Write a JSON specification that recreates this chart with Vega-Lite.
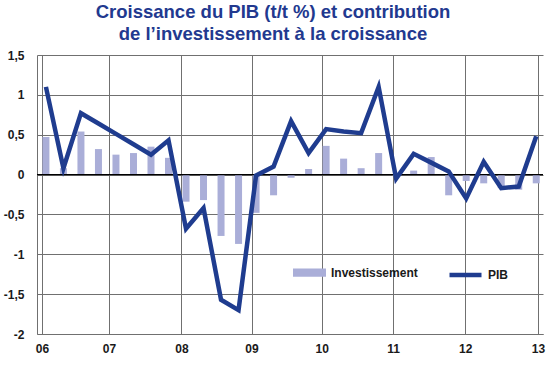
{
  "$schema": "https://vega.github.io/schema/vega-lite/v6.json",
  "width": 506,
  "height": 279,
  "autosize": {"type": "none"},
  "padding": {"left": 37, "top": 55, "right": 9, "bottom": 36},
  "background": "white",
  "config": {
    "view": {"stroke": null},
    "font": "Liberation Sans",
    "axisY": {
      "title": null,
      "grid": true,
      "gridColor": "#707070",
      "gridWidth": 1,
      "gridOpacity": 1,
      "domainColor": "#707070",
      "domainWidth": 1,
      "ticks": false,
      "labelPadding": 13,
      "labelFont": "Liberation Sans",
      "labelFontSize": 12,
      "labelFontWeight": "bold",
      "labelColor": "#1a1a1a",
      "labelFlush": false,
      "labelOverlap": false
    }
  },
  "title": {
    "text": ["Croissance du PIB (t/t %) et contribution", "de l’investissement à la croissance"],
    "font": "Liberation Sans",
    "fontSize": 18.5,
    "fontWeight": "bold",
    "color": "#22398f",
    "anchor": "middle",
    "dx": -17,
    "offset": 6,
    "lineHeight": 21.5
  },
  "data": {
    "values": [
      {"q": 0, "trimestre": "2006T1", "inv": 0.47, "pib": 1.1},
      {"q": 1, "trimestre": "2006T2", "inv": 0.08, "pib": 0.08},
      {"q": 2, "trimestre": "2006T3", "inv": 0.54, "pib": 0.77},
      {"q": 3, "trimestre": "2006T4", "inv": 0.32, "pib": 0.64},
      {"q": 4, "trimestre": "2007T1", "inv": 0.25, "pib": 0.51},
      {"q": 5, "trimestre": "2007T2", "inv": 0.27, "pib": 0.38},
      {"q": 6, "trimestre": "2007T3", "inv": 0.35, "pib": 0.25},
      {"q": 7, "trimestre": "2007T4", "inv": 0.21, "pib": 0.43},
      {"q": 8, "trimestre": "2008T1", "inv": -0.34, "pib": -0.68},
      {"q": 9, "trimestre": "2008T2", "inv": -0.32, "pib": -0.42},
      {"q": 10, "trimestre": "2008T3", "inv": -0.77, "pib": -1.57},
      {"q": 11, "trimestre": "2008T4", "inv": -0.87, "pib": -1.7},
      {"q": 12, "trimestre": "2009T1", "inv": -0.48, "pib": -0.01},
      {"q": 13, "trimestre": "2009T2", "inv": -0.26, "pib": 0.1},
      {"q": 14, "trimestre": "2009T3", "inv": -0.04, "pib": 0.67},
      {"q": 15, "trimestre": "2009T4", "inv": 0.07, "pib": 0.27},
      {"q": 16, "trimestre": "2010T1", "inv": 0.36, "pib": 0.57},
      {"q": 17, "trimestre": "2010T2", "inv": 0.2, "pib": 0.54},
      {"q": 18, "trimestre": "2010T3", "inv": 0.08, "pib": 0.52},
      {"q": 19, "trimestre": "2010T4", "inv": 0.27, "pib": 1.1},
      {"q": 20, "trimestre": "2011T1", "inv": -0.02, "pib": -0.05},
      {"q": 21, "trimestre": "2011T2", "inv": 0.05, "pib": 0.26},
      {"q": 22, "trimestre": "2011T3", "inv": 0.22, "pib": 0.15},
      {"q": 23, "trimestre": "2011T4", "inv": -0.26, "pib": 0.04},
      {"q": 24, "trimestre": "2012T1", "inv": -0.08, "pib": -0.3},
      {"q": 25, "trimestre": "2012T2", "inv": -0.11, "pib": 0.16},
      {"q": 26, "trimestre": "2012T3", "inv": -0.17, "pib": -0.17},
      {"q": 27, "trimestre": "2012T4", "inv": -0.19, "pib": -0.15},
      {"q": 28, "trimestre": "2013T1", "inv": -0.11, "pib": 0.48}
    ]
  },
  "layer": [
    {
      "mark": {"type": "bar", "size": 7},
      "encoding": {
        "x": {
          "field": "q",
          "type": "quantitative",
          "scale": {"domain": [-0.224, 28.1], "nice": false, "zero": false},
          "axis": {
            "title": null,
            "values": [-0.224, 3.6, 7.74, 11.74, 15.75, 19.83, 23.94, 28.1],
            "labelExpr": "['06','07','08','09','10','11','12','13'][round((datum.value + 0.224) / 4.05)]",
            "grid": true,
            "gridColor": "#707070",
            "gridWidth": 1,
            "gridOpacity": 1,
            "domainColor": "#707070",
            "domainWidth": 1,
            "ticks": false,
            "labelPadding": 9,
            "labelFont": "Liberation Sans",
            "labelFontSize": 12,
            "labelFontWeight": "bold",
            "labelColor": "#1a1a1a",
            "labelFlush": false,
            "labelOverlap": false
          }
        },
        "y": {
          "field": "inv",
          "type": "quantitative",
          "scale": {"domain": [-2, 1.5], "nice": false},
          "axis": {
            "values": [-2, -1.5, -1, -0.5, 0, 0.5, 1, 1.5],
            "labelExpr": "replace(toString(datum.value), '.', ',')"
          }
        },
        "color": {
          "datum": "Investissement",
          "scale": {"domain": ["Investissement"], "range": ["#aaaed8"]},
          "legend": {
            "orient": "none",
            "legendX": 256,
            "legendY": 201,
            "title": null,
            "padding": 0,
            "symbolType": "M-1,-0.25H1V0.25H-1Z",
            "symbolSize": 1089,
            "symbolStrokeWidth": 0,
            "symbolOpacity": 1,
            "labelFont": "Liberation Sans",
            "labelFontSize": 12,
            "labelFontWeight": "bold",
            "labelColor": "#1a1a1a",
            "labelOffset": 5
          }
        }
      }
    },
    {
      "data": {"values": [{"v": 0}]},
      "mark": {"type": "rule", "color": "#000000", "strokeWidth": 1.3},
      "encoding": {
        "y": {
          "field": "v",
          "type": "quantitative",
          "axis": {
            "values": [-2, -1.5, -1, -0.5, 0, 0.5, 1, 1.5],
            "labelExpr": "replace(toString(datum.value), '.', ',')"
          }
        }
      }
    },
    {
      "mark": {"type": "line", "strokeWidth": 4.5, "strokeJoin": "miter", "strokeMiterLimit": 10},
      "encoding": {
        "x": {"field": "q", "type": "quantitative"},
        "y": {
          "field": "pib",
          "type": "quantitative",
          "axis": {
            "values": [-2, -1.5, -1, -0.5, 0, 0.5, 1, 1.5],
            "labelExpr": "replace(toString(datum.value), '.', ',')"
          }
        },
        "stroke": {
          "datum": "PIB",
          "scale": {"domain": ["PIB"], "range": ["#1f3c8f"]},
          "legend": {
            "orient": "none",
            "legendX": 410,
            "legendY": 201.5,
            "title": null,
            "padding": 0,
            "symbolType": "stroke",
            "symbolSize": 1024,
            "symbolStrokeWidth": 4.5,
            "labelFont": "Liberation Sans",
            "labelFontSize": 12,
            "labelFontWeight": "bold",
            "labelColor": "#1a1a1a",
            "labelOffset": 4
          }
        }
      }
    }
  ]
}
